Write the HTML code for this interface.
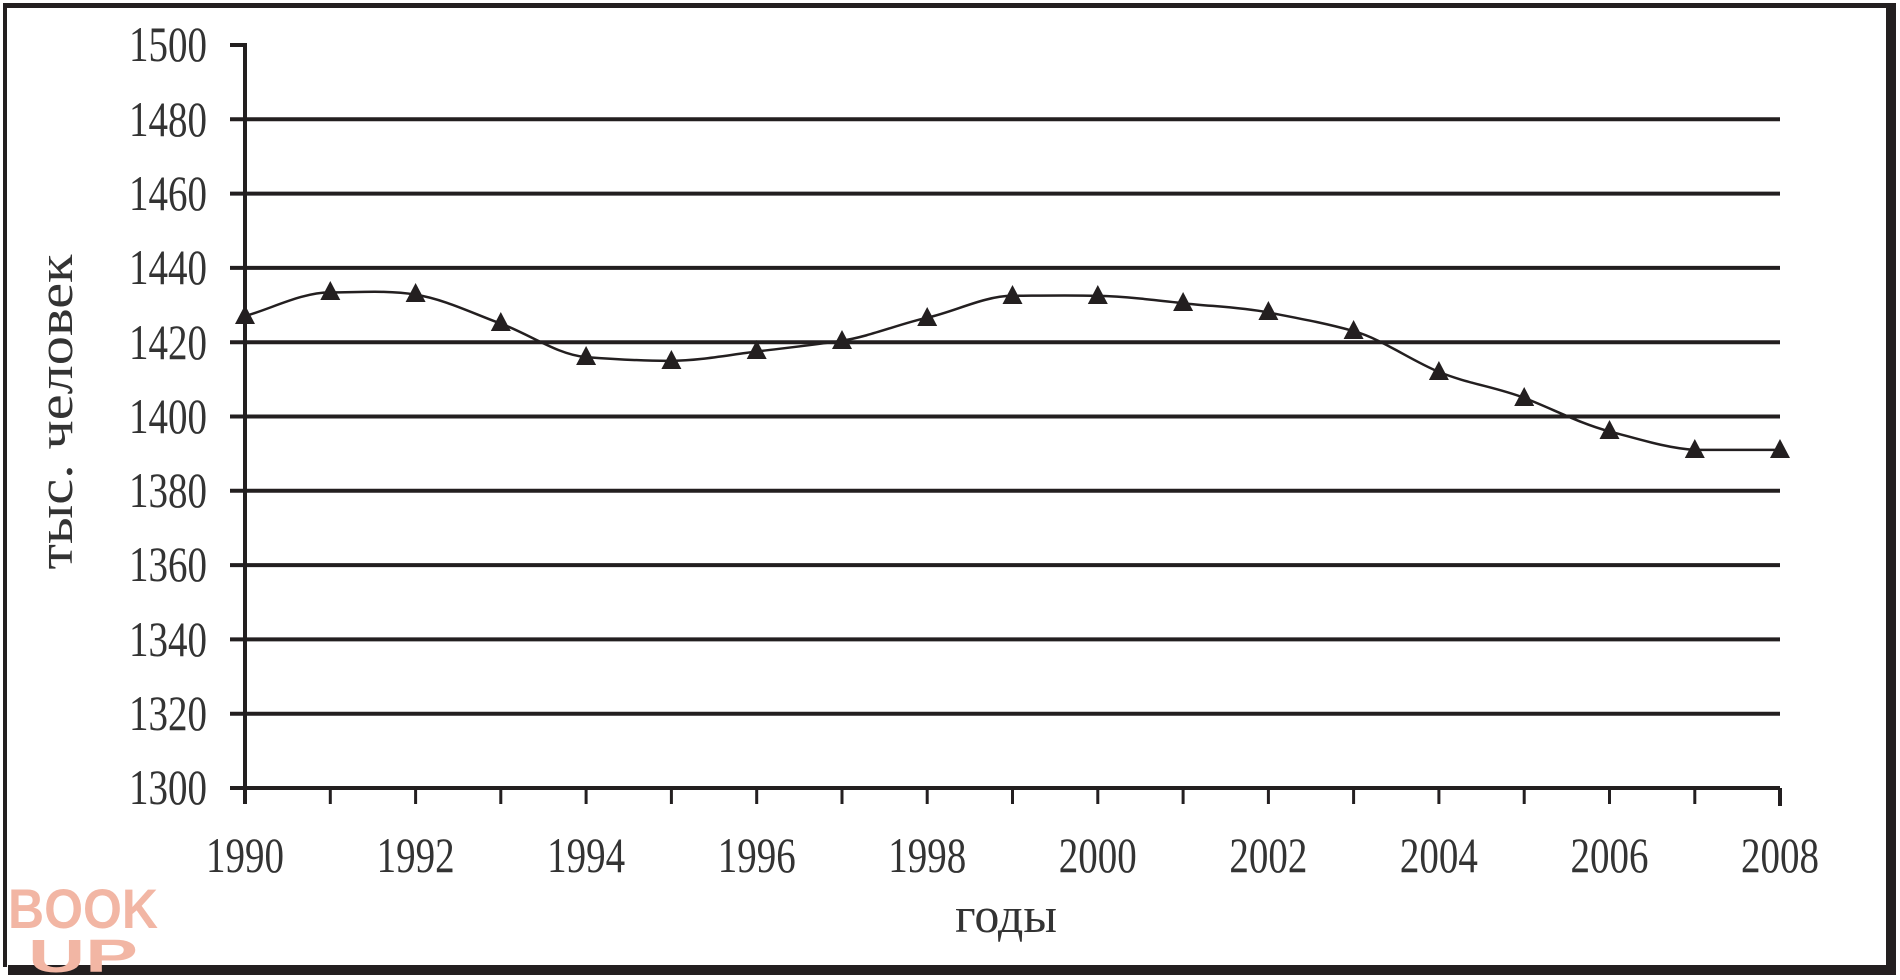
<!DOCTYPE html>
<html><head><meta charset="utf-8"><style>html,body{margin:0;padding:0;background:#fff}svg{display:block}</style></head>
<body>
<svg width="1900" height="980" viewBox="0 0 1900 980" xmlns="http://www.w3.org/2000/svg" font-family="Liberation Serif, serif">
<rect x="0" y="0" width="1900" height="980" fill="#fff"/>
<rect x="3" y="3" width="4" height="964" fill="#231f20"/>
<rect x="3" y="3" width="1893" height="5" fill="#231f20"/>
<rect x="1886" y="3" width="10" height="972" fill="#231f20"/>
<rect x="8" y="965" width="1888" height="10" fill="#231f20"/>
<g stroke="#231f20" stroke-width="4">
<line x1="230" y1="45" x2="247" y2="45"/>
<line x1="230" y1="119.3" x2="1780" y2="119.3"/>
<line x1="230" y1="193.6" x2="1780" y2="193.6"/>
<line x1="230" y1="267.9" x2="1780" y2="267.9"/>
<line x1="230" y1="342.2" x2="1780" y2="342.2"/>
<line x1="230" y1="416.5" x2="1780" y2="416.5"/>
<line x1="230" y1="490.8" x2="1780" y2="490.8"/>
<line x1="230" y1="565.1" x2="1780" y2="565.1"/>
<line x1="230" y1="639.4" x2="1780" y2="639.4"/>
<line x1="230" y1="713.7" x2="1780" y2="713.7"/>
<line x1="230" y1="788" x2="1780" y2="788"/>
<line x1="245" y1="43" x2="245" y2="804"/>
</g>
<g stroke="#231f20" stroke-width="3">
<line x1="330.3" y1="788" x2="330.3" y2="804"/><line x1="415.6" y1="788" x2="415.6" y2="804"/><line x1="500.8" y1="788" x2="500.8" y2="804"/><line x1="586.1" y1="788" x2="586.1" y2="804"/><line x1="671.4" y1="788" x2="671.4" y2="804"/><line x1="756.7" y1="788" x2="756.7" y2="804"/><line x1="842" y1="788" x2="842" y2="804"/><line x1="927.2" y1="788" x2="927.2" y2="804"/><line x1="1012.5" y1="788" x2="1012.5" y2="804"/><line x1="1097.8" y1="788" x2="1097.8" y2="804"/><line x1="1183.1" y1="788" x2="1183.1" y2="804"/><line x1="1268.4" y1="788" x2="1268.4" y2="804"/><line x1="1353.6" y1="788" x2="1353.6" y2="804"/><line x1="1438.9" y1="788" x2="1438.9" y2="804"/><line x1="1524.2" y1="788" x2="1524.2" y2="804"/><line x1="1609.5" y1="788" x2="1609.5" y2="804"/><line x1="1694.8" y1="788" x2="1694.8" y2="804"/><line x1="1780" y1="788" x2="1780" y2="806" stroke-width="4"/>
</g>
<g font-size="50" fill="#333" text-anchor="end" lengthAdjust="spacingAndGlyphs">
<text x="207" y="61" textLength="78" lengthAdjust="spacingAndGlyphs">1500</text>
<text x="207" y="136" textLength="78" lengthAdjust="spacingAndGlyphs">1480</text>
<text x="207" y="210" textLength="78" lengthAdjust="spacingAndGlyphs">1460</text>
<text x="207" y="284" textLength="78" lengthAdjust="spacingAndGlyphs">1440</text>
<text x="207" y="359" textLength="78" lengthAdjust="spacingAndGlyphs">1420</text>
<text x="207" y="433" textLength="78" lengthAdjust="spacingAndGlyphs">1400</text>
<text x="207" y="507" textLength="78" lengthAdjust="spacingAndGlyphs">1380</text>
<text x="207" y="581" textLength="78" lengthAdjust="spacingAndGlyphs">1360</text>
<text x="207" y="656" textLength="78" lengthAdjust="spacingAndGlyphs">1340</text>
<text x="207" y="730" textLength="78" lengthAdjust="spacingAndGlyphs">1320</text>
<text x="207" y="804" textLength="78" lengthAdjust="spacingAndGlyphs">1300</text>
</g>
<g font-size="50" fill="#333">
<text x="206" y="872" textLength="78" lengthAdjust="spacingAndGlyphs">1990</text>
<text x="376.6" y="872" textLength="78" lengthAdjust="spacingAndGlyphs">1992</text>
<text x="547.1" y="872" textLength="78" lengthAdjust="spacingAndGlyphs">1994</text>
<text x="717.7" y="872" textLength="78" lengthAdjust="spacingAndGlyphs">1996</text>
<text x="888.2" y="872" textLength="78" lengthAdjust="spacingAndGlyphs">1998</text>
<text x="1058.8" y="872" textLength="78" lengthAdjust="spacingAndGlyphs">2000</text>
<text x="1229.4" y="872" textLength="78" lengthAdjust="spacingAndGlyphs">2002</text>
<text x="1399.9" y="872" textLength="78" lengthAdjust="spacingAndGlyphs">2004</text>
<text x="1570.5" y="872" textLength="78" lengthAdjust="spacingAndGlyphs">2006</text>
<text x="1741" y="872" textLength="78" lengthAdjust="spacingAndGlyphs">2008</text>
</g>
<text x="1006" y="932" font-size="50" fill="#333" text-anchor="middle">годы</text>
<text transform="translate(72,412) rotate(-90)" font-size="50" fill="#333" text-anchor="middle" textLength="315" lengthAdjust="spacingAndGlyphs">тыс. человек</text>
<path fill="none" stroke="#231f20" stroke-width="2.5" d="M245,316.2 C273,308 302,292.4 330.3,292.4 S387,290 415.6,294.6 S472,313 500.8,323.6 S558,355 586.1,357.1 S643,361 671.4,360.8 S728,355 756.7,351.5 S814,345 842,340.7 S899,324 927.2,317.7 S984,296 1012.5,295.8 S1069,295 1097.8,295.8 S1155,300 1183.1,303.2 S1240,307 1268.4,312.5 S1325,323 1353.6,331.1 S1410,360 1438.9,371.9 S1496,387 1524.2,397.9 S1581,424 1609.5,431.4 S1666,448 1694.8,449.9 L1780,449.9"/>
<g fill="#231f20">
<path d="M245,305 l10,19 h-20z"/><path d="M330.3,281 l10,19 h-20z"/><path d="M415.6,283 l10,19 h-20z"/><path d="M500.8,312 l10,19 h-20z"/><path d="M586.1,346 l10,19 h-20z"/><path d="M671.4,350 l10,19 h-20z"/><path d="M756.7,340 l10,19 h-20z"/><path d="M842,330 l10,19 h-20z"/><path d="M927.2,307 l10,19 h-20z"/><path d="M1012.5,285 l10,19 h-20z"/><path d="M1097.8,285 l10,19 h-20z"/><path d="M1183.1,292 l10,19 h-20z"/><path d="M1268.4,301 l10,19 h-20z"/><path d="M1353.6,320 l10,19 h-20z"/><path d="M1438.9,361 l10,19 h-20z"/><path d="M1524.2,387 l10,19 h-20z"/><path d="M1609.5,420 l10,19 h-20z"/><path d="M1694.8,439 l10,19 h-20z"/><path d="M1780,439 l10,19 h-20z"/>
</g>
<text x="8" y="928" font-family="Liberation Sans, sans-serif" font-weight="bold" font-size="56" fill="#f2b6a4" textLength="150" lengthAdjust="spacingAndGlyphs">BOOK</text>
<text x="28" y="972" font-family="Liberation Sans, sans-serif" font-weight="bold" font-size="46" fill="#f2b6a4" textLength="110" lengthAdjust="spacingAndGlyphs">UP</text>
</svg>
</body></html>
